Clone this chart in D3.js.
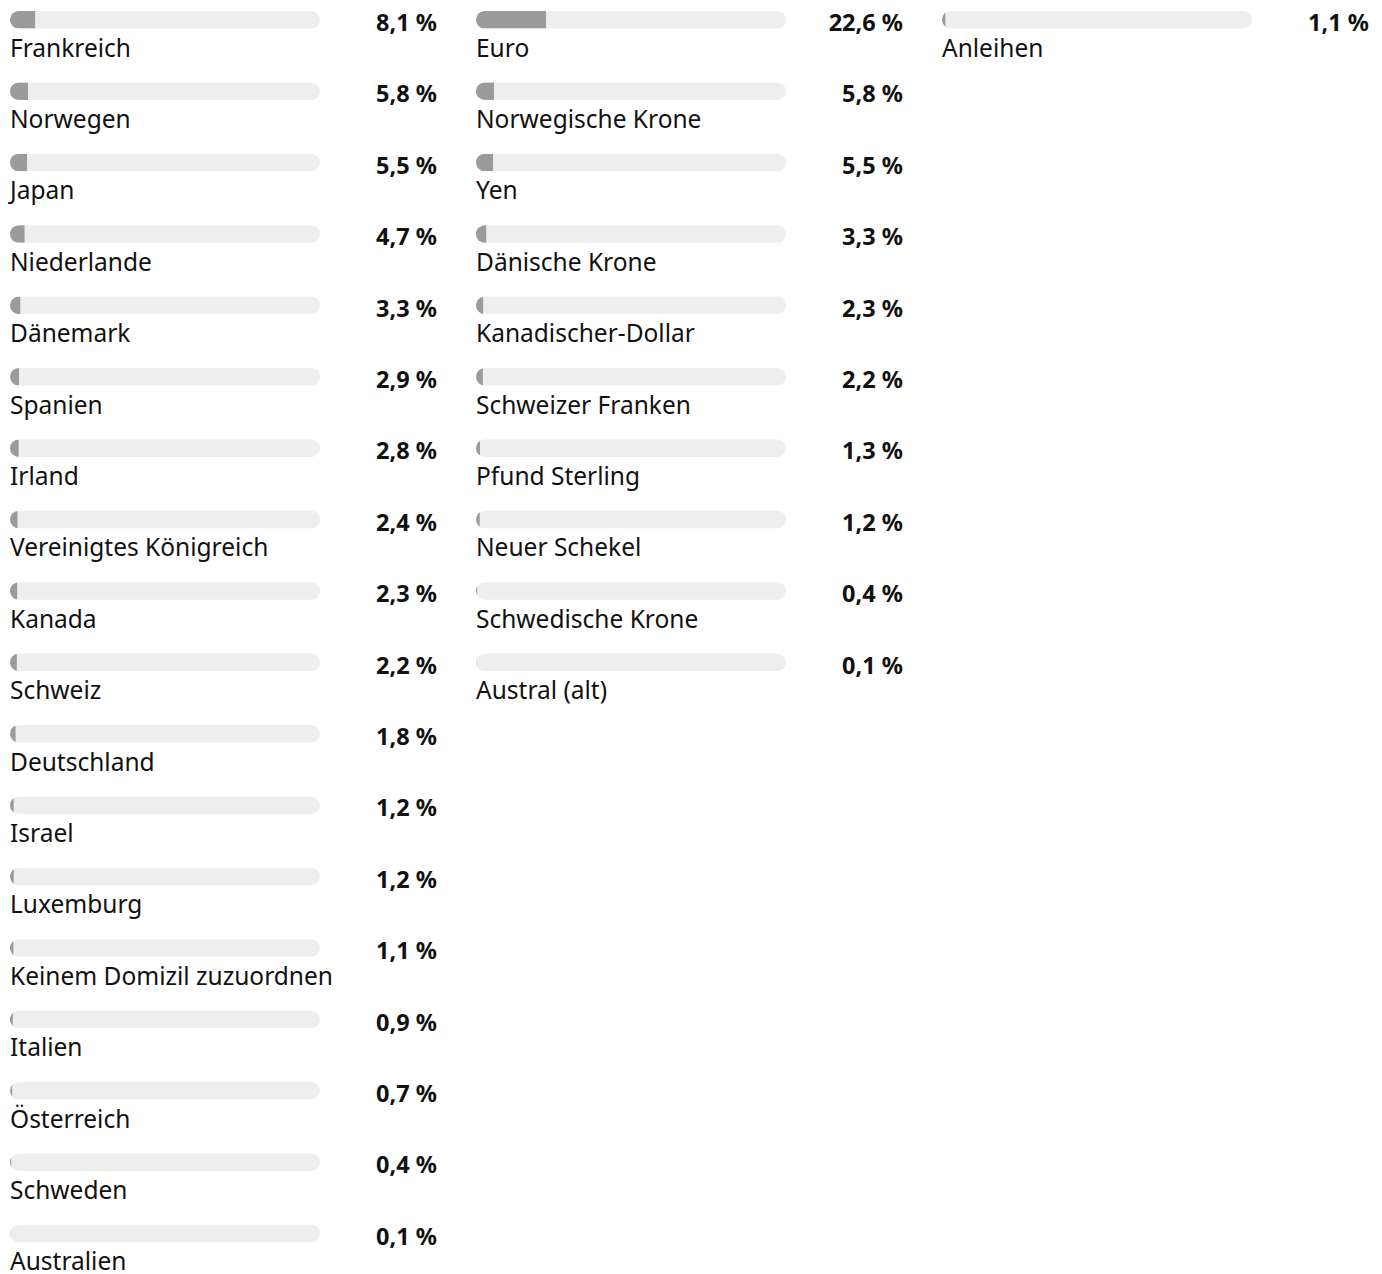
<!DOCTYPE html>
<html>
<head>
<meta charset="utf-8">
<script src="https://cdn.jsdelivr.net/npm/d3@7"></script>
<style>
  body { margin: 0; background: #fff; }
  svg { display: block; }
</style>
</head>
<body>
<div id="chart"></div>
<script>
// Länder
const countries = ["Frankreich", "Norwegen", "Japan", "Niederlande", "Dänemark", "Spanien", "Irland",
    "Vereinigtes Königreich", "Kanada", "Schweiz", "Deutschland", "Israel", "Luxemburg",
    "Keinem Domizil zuzuordnen", "Italien", "Österreich", "Schweden", "Australien"];
const countryValues = [8.1, 5.8, 5.5, 4.7, 3.3, 2.9, 2.8, 2.4, 2.3, 2.2, 1.8, 1.2, 1.2, 1.1, 0.9, 0.7, 0.4, 0.1];

// Währungen
const currencies = ["Euro", "Norwegische Krone", "Yen", "Dänische Krone", "Kanadischer-Dollar",
    "Schweizer Franken", "Pfund Sterling", "Neuer Schekel", "Schwedische Krone", "Austral (alt)"];
const currencyValues = [22.6, 5.8, 5.5, 3.3, 2.3, 2.2, 1.3, 1.2, 0.4, 0.1];

// Anlageklassen
const assetClasses = ["Anleihen"];
const assetValues = [1.1];

const width = 1382;
const height = 1274;
const colWidth = 466;
const trackWidth = 310;
const rowHeight = 71.4;
const barHeight = 17.5;

const columns = [
    { names: countries, values: countryValues },
    { names: currencies, values: currencyValues },
    { names: assetClasses, values: assetValues }
];

const de = d3.formatLocale({ decimal: ",", thousands: ".", grouping: [3], currency: ["", " €"] });
const fmt = v => de.format(".1f")(v) + " %";

const svg = d3.select("#chart")
    .append("svg")
    .attr("width", width)
    .attr("height", height);

const x = d3.scaleLinear()
    .domain([0, 100])
    .range([0, trackWidth]);

const colX = d3.scaleLinear().domain([0, 1]).range([10, 10 + colWidth]);
const rowY = d3.scaleLinear().domain([0, 1]).range([11, 11 + rowHeight]);

columns.forEach((col, c) => {
    const g = svg.append("g")
        .attr("transform", "translate(" + colX(c) + ",0)");

    const rows = g.selectAll("g.row")
        .data(col.names.map((n, i) => ({ name: n, value: col.values[i], i: i })))
        .join("g")
        .attr("class", "row")
        .attr("transform", d => "translate(0," + rowY(d.i) + ")");

    rows.append("clipPath")
        .attr("id", d => "clip-" + c + "-" + d.i)
        .append("rect")
        .attr("width", trackWidth)
        .attr("height", barHeight)
        .attr("rx", barHeight / 2);

    rows.append("rect")
        .attr("width", trackWidth)
        .attr("height", barHeight)
        .attr("rx", barHeight / 2)
        .attr("fill", "#eeeeee");

    rows.append("rect")
        .attr("clip-path", d => "url(#clip-" + c + "-" + d.i + ")")
        .attr("width", d => x(d.value))
        .attr("height", barHeight)
        .attr("fill", "#9b9b9b");

    rows.append("text")
        .attr("x", 427)
        .attr("y", 20)
        .attr("text-anchor", "end")
        .style("font-family", "'Noto Sans', sans-serif")
        .style("font-weight", "bold")
        .style("font-size", "23.5px")
        .attr("fill", "#111")
        .text(d => fmt(d.value));

    rows.append("text")
        .attr("x", 0)
        .attr("y", 45.5)
        .style("font-family", "'Noto Sans', sans-serif")
        .style("font-size", "24.5px")
        .attr("fill", "#111")
        .text(d => d.name);
});
</script>
</body>
</html>
